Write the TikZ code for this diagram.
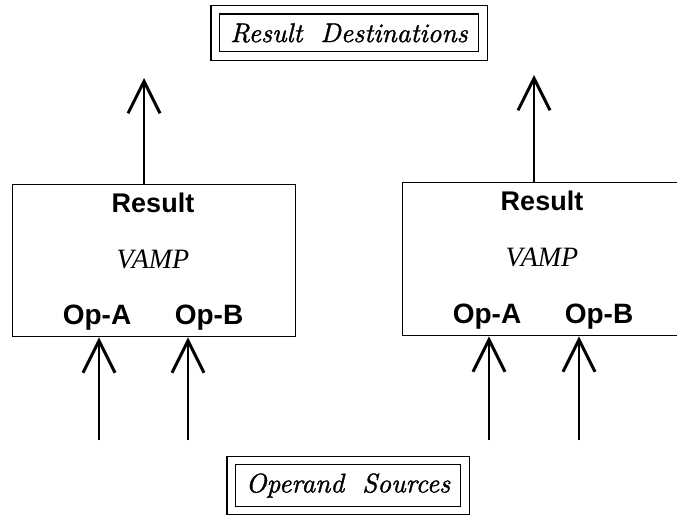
\documentclass[tikz,border=0pt]{standalone}
\usepackage{fontspec}
\newfontfamily\hvfont{Liberation Sans}
\newfontfamily\tmfont{Liberation Serif}
\newfontfamily\lmtenit{lmroman10-italic.otf}[FakeBold=1.2]
\usetikzlibrary{arrows.meta}
\begin{document}
\begin{tikzpicture}[x=1pt,y=-1pt,
  unitbox/.style={draw, line width=1.4pt, minimum width=283pt, minimum height=152pt, inner sep=0pt, anchor=north west},
  lbl/.style={font=\hvfont\bfseries\fontsize{27}{30}\selectfont, inner sep=0pt, anchor=base},
  oplbl/.style={font=\hvfont\bfseries\fontsize{28}{30}\selectfont, inner sep=0pt, anchor=base},
  vamp/.style={font=\tmfont\itshape\fontsize{28}{30}\selectfont, inner sep=0pt, anchor=base},
  flow/.style={line width=1.4pt, -{Straight Barb[length=32pt,width=32pt,line width=3pt]}},
  frame/.style={draw, line width=1.2pt, double, double distance=7.5pt, inner sep=0pt, font=\lmtenit\fontsize{27}{30}\selectfont}
]
\useasboundingbox (0,0) rectangle (677,516);

% framed labels
\node[frame, minimum width=267.5pt, minimum height=46.5pt] (dest) at (349,33) {Result\hspace{18pt}Destinations};
\node[frame, minimum width=233.5pt, minimum height=50pt] (src) at (348,485.5) {Operand\hspace{18pt}Sources};

% left unit
\node[unitbox] (L) at (12,184) {};
\node[lbl] (Lres) at (153,212) {Result};
\node[vamp] (Lvamp) at (153,268) {VAMP};
\node[oplbl] (LopA) at (97,324) {Op-A};
\node[oplbl] (LopB) at (209,324) {Op-B};

% right unit
\node[unitbox, minimum height=153pt] (R) at (402,182) {};
\node[lbl] (Rres) at (542,210) {Result};
\node[vamp] (Rvamp) at (542,266) {VAMP};
\node[oplbl] (RopA) at (487,323) {Op-A};
\node[oplbl] (RopB) at (599,323) {Op-B};

% result arrows
\coordinate (LtopTip) at (144,78);
\coordinate (RtopTip) at (534,75);
\draw[flow] (LtopTip |- L.north) -- (LtopTip);
\draw[flow] (RtopTip |- R.north) -- (RtopTip);

% operand arrows
\coordinate (LaS) at (99,440);
\coordinate (LbS) at (188,440);
\coordinate (RaS) at (489,440);
\coordinate (RbS) at (579,440);
\draw[flow] (LaS) -- (LaS |- L.south);
\draw[flow] (LbS) -- (LbS |- L.south);
\draw[flow] (RaS) -- (RaS |- R.south);
\draw[flow] (RbS) -- (RbS |- R.south);
\end{tikzpicture}
\end{document}
